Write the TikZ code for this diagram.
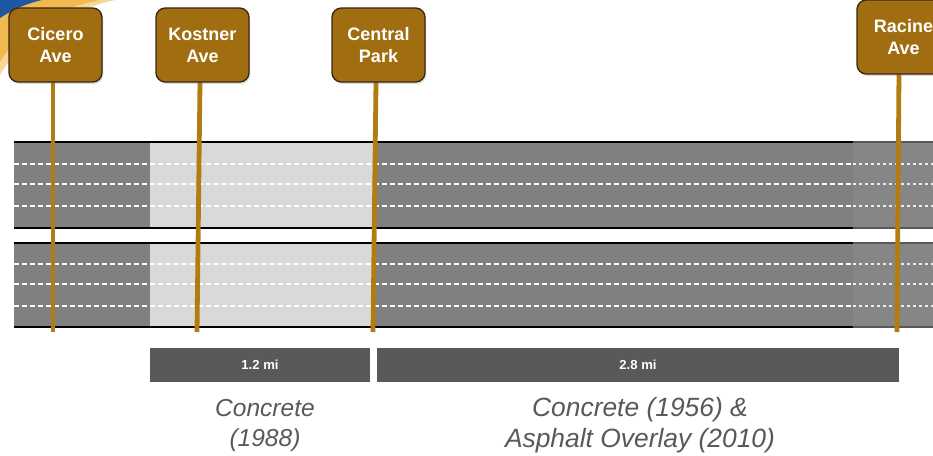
\documentclass[tikz,border=0pt]{standalone}
\usepackage{fontspec}
\setmainfont{Liberation Sans}
\usetikzlibrary{shadows}
\definecolor{signfill}{RGB}{160,110,16}
\definecolor{signedge}{RGB}{60,38,20}
\definecolor{polecol}{RGB}{178,124,18}
\definecolor{roaddark}{RGB}{128,128,128}
\definecolor{roadlight}{RGB}{217,217,217}
\definecolor{roadright}{RGB}{134,134,134}
\definecolor{barcol}{RGB}{89,89,89}
\definecolor{txtgray}{RGB}{89,89,89}
\definecolor{swblue}{RGB}{30,88,160}
\definecolor{swyellow}{RGB}{240,186,80}
\tikzset{
  sign/.style={draw=signedge, line width=1pt, fill=signfill, rounded corners=7pt,
    minimum width=69.75pt, minimum height=55.5pt, inner sep=0pt,
    text=white, font=\bfseries\fontsize{13.5}{16.5}\selectfont, align=center,
    drop shadow={opacity=0.25, shadow xshift=1pt, shadow yshift=-1.5pt}},
  pole/.style={draw=polecol, line width=3.6pt},
  lane/.style={draw=white, line width=0.8pt, dash pattern=on 3.8pt off 2.2pt},
  lanefaint/.style={draw=white!85!gray, line width=0.8pt, dash pattern=on 2.5pt off 2pt},
  edge/.style={draw=black, line width=1.5pt},
  bar/.style={fill=barcol, inner sep=0pt, text=white, font=\bfseries\fontsize{9.8}{11}\selectfont},
  note/.style={text=txtgray, font=\itshape\fontsize{18.4}{22.5}\selectfont, align=center},
  notebig/.style={text=txtgray, font=\itshape\fontsize{19.8}{23}\selectfont, align=center}
}
\begin{document}
\begin{tikzpicture}[x=0.75pt,y=-0.75pt]
\useasboundingbox (0,0) rectangle (933,455);
\fill[white] (0,0) rectangle (933,455);
% corner swoosh
\fill[swyellow!60] (0,75) .. controls (20,40) and (60,12) .. (115,0) -- (0,0) -- cycle;
\fill[swyellow] (0,62) .. controls (18,32) and (50,10) .. (100,0) -- (0,0) -- cycle;
\fill[swblue] (0,18) .. controls (12,10) and (25,4) .. (42,0) -- (0,0) -- cycle;
% roads
\foreach \t/\b in {142/228, 243/327}{
  \fill[roaddark] (14,\t) rectangle (853,\b);
  \fill[roadlight] (150,\t) rectangle (375,\b);
  \fill[roadright] (853,\t) rectangle (933,\b);
  \draw[gray!70!black, line width=1pt] (853,\t) -- (933,\t) (853,\b) -- (933,\b);
  \draw[edge] (14,\t) -- (853,\t) (14,\b) -- (853,\b);
}
\foreach \y in {164,184,206,264,284,306}{
  \draw[lane] (14,\y) -- (853,\y);
  \draw[lanefaint] (853,\y) -- (933,\y);
}
% poles
\coordinate (cfoot) at (53,332);
\coordinate (ktop) at (200,82);
\coordinate (kfoot) at (197,332);
\coordinate (ptop) at (376,82);
\coordinate (pfoot) at (373,332);
\coordinate (rtop) at (899,72);
\coordinate (rfoot) at (897,332);
\draw[pole] (53,82) -- (cfoot);
\draw[pole] (ktop) -- (kfoot);
\draw[pole] (ptop) -- (pfoot);
\draw[pole] (rtop) -- (rfoot);
% signs
\node[sign] (cicero) at (55.5,45) {Cicero\\Ave};
\node[sign] (kostner) at (202.5,45) {Kostner\\Ave};
\node[sign] (central) at (378.5,45) {Central\\Park};
\node[sign] (racine) at (903.5,37) {Racine\\Ave};
% distance bars
\node[bar, minimum width=165pt, minimum height=25.5pt] (bar1) at (260,365) {1.2 mi};
\node[bar, minimum width=391.5pt, minimum height=25.5pt] (bar2) at (638,365) {2.8 mi};
% notes
\node[note] (n1) at (265,425) {Concrete\\(1988)};
\node[notebig] (n2) at (640,425) {Concrete (1956) \&\\Asphalt Overlay (2010)};
\end{tikzpicture}
\end{document}
